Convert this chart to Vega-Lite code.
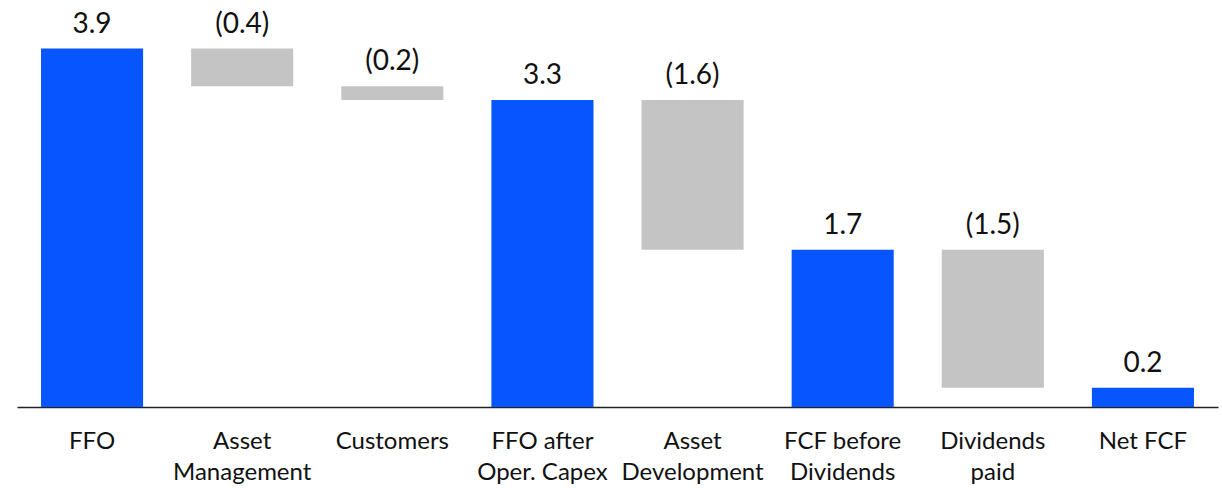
{
  "$schema": "https://vega.github.io/schema/vega-lite/v6.json",
  "autosize": "none",
  "width": 1201,
  "height": 386,
  "padding": {"left": 17, "top": 21, "right": 4, "bottom": 81},
  "background": "white",
  "config": {"view": {"stroke": null}, "font": "Lato"},
  "data": {
    "values": [
      {"category": "FFO", "low": 0, "high": 3.9, "label": "3.9", "kind": "total"},
      {"category": "Asset Management", "low": 3.49, "high": 3.9, "label": "(0.4)", "kind": "delta"},
      {"category": "Customers", "low": 3.34, "high": 3.49, "label": "(0.2)", "kind": "delta"},
      {"category": "FFO after Oper. Capex", "low": 0, "high": 3.34, "label": "3.3", "kind": "total"},
      {"category": "Asset Development", "low": 1.71, "high": 3.34, "label": "(1.6)", "kind": "delta"},
      {"category": "FCF before Dividends", "low": 0, "high": 1.71, "label": "1.7", "kind": "total"},
      {"category": "Dividends paid", "low": 0.21, "high": 1.71, "label": "(1.5)", "kind": "delta"},
      {"category": "Net FCF", "low": 0, "high": 0.21, "label": "0.2", "kind": "total"}
    ]
  },
  "encoding": {
    "x": {
      "field": "category",
      "type": "nominal",
      "sort": null,
      "scale": {"paddingInner": 0.32, "paddingOuter": 0.16},
      "axis": {
        "title": null,
        "labelAngle": 0,
        "ticks": false,
        "domainColor": "#222222",
        "domainWidth": 1.5,
        "labelFont": "Lato",
        "labelFontSize": 24,
        "labelColor": "#111111",
        "labelPadding": 22,
        "labelLineHeight": 31,
        "labelLimit": 0,
        "labelExpr": "datum.label == 'Asset Management' ? ['Asset','Management'] : datum.label == 'FFO after Oper. Capex' ? ['FFO after','Oper. Capex'] : datum.label == 'Asset Development' ? ['Asset','Development'] : datum.label == 'FCF before Dividends' ? ['FCF before','Dividends'] : datum.label == 'Dividends paid' ? ['Dividends','paid'] : datum.label"
      }
    }
  },
  "layer": [
    {
      "mark": {"type": "bar"},
      "encoding": {
        "y": {"field": "high", "type": "quantitative", "scale": {"domain": [0, 4.2], "nice": false, "zero": true}, "axis": null},
        "y2": {"field": "low"},
        "color": {
          "field": "kind",
          "type": "nominal",
          "scale": {"domain": ["total", "delta"], "range": ["#0755FF", "#C4C4C4"]},
          "legend": null
        }
      }
    },
    {
      "mark": {"type": "text", "baseline": "alphabetic", "dy": -16, "fontSize": 28, "font": "Lato", "color": "#111111"},
      "encoding": {
        "y": {"field": "high", "type": "quantitative"},
        "text": {"field": "label"}
      }
    }
  ]
}
